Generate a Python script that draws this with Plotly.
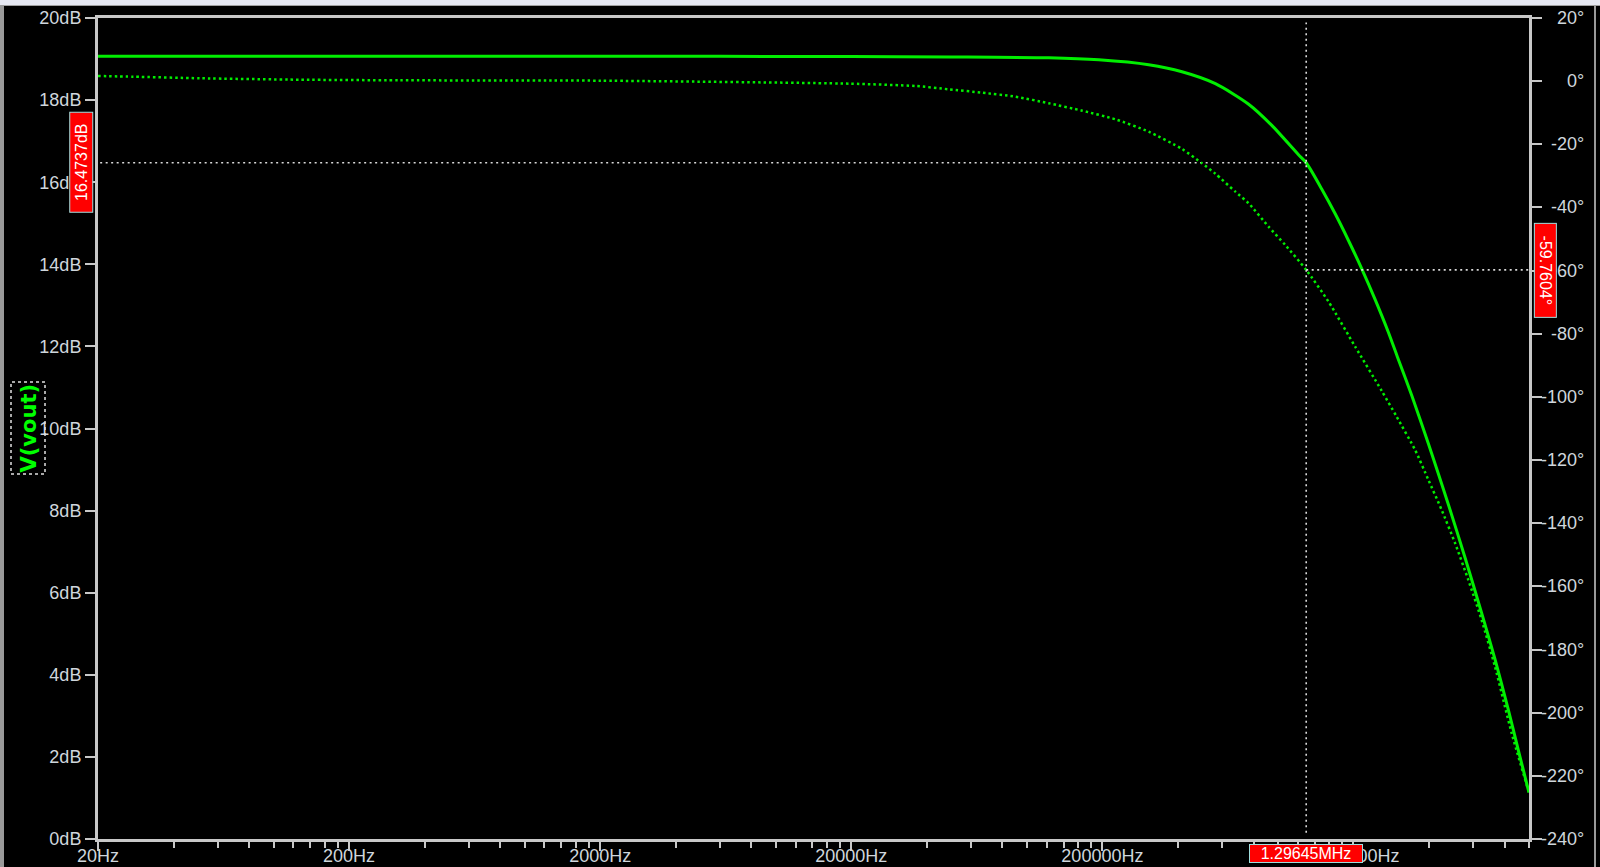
import math
import plotly.graph_objects as go

# ---------------- data ----------------
freq_mag = [20, 200, 2000, 20000, 50000, 122400, 193500, 305900, 415000, 563600,
            764500, 943600, 1.208e6, 1.29645e6, 1.496e6, 1.691e6, 1.910e6, 2.158e6,
            2.44e6, 2.756e6, 2.99e6, 3.41e6, 3.976e6, 4.774e6, 5.564e6, 6.475e6,
            7.32e6, 8.27e6, 9.07e6, 1.0e7]
mag_db = [19.07, 19.07, 19.07, 19.06, 19.05, 19.03, 18.98, 18.86, 18.69, 18.40,
          17.90, 17.39, 16.67, 16.4737, 15.83, 15.23, 14.58, 13.89,
          13.14, 12.34, 11.75, 10.81, 9.63, 8.15, 6.85, 5.51,
          4.38, 3.15, 2.16, 1.13]

freq_ph = [20, 27.6, 50.9, 127, 318, 2000, 19650, 36100, 48980, 66440,
           90200, 122400, 166100, 225500, 305900, 415000, 498600, 563600,
           676800, 764500, 918000, 1.07e6, 1.29645e6, 1.591e6, 2.031e6,
           2.592e6, 2.97e6, 3.52e6, 3.976e6, 4.49e6, 5.076e6,
           5.734e6, 6.475e6, 7.32e6, 8.53e6, 1.0e7]
phase_deg = [1.63, 1.41, 0.91, 0.46, 0.27, 0.15, -0.80, -1.53, -2.58, -3.65,
             -4.92, -7.01, -9.35, -12.08, -16.0, -21.48, -26.0, -29.3,
             -35.0, -38.68, -46.09, -51.88, -59.7604, -69.83, -84.08,
             -98.11, -106.25, -116.8, -126.3, -135.8, -146.3,
             -158.0, -170.6, -185.4, -206.5, -225.3]

cursor_freq = 1.29645e6
cursor_mag = 16.4737
cursor_phase = -59.7604
cursor_freq_text = "1.29645MHz"
cursor_mag_text = "16.4737dB"
cursor_phase_text = "-59.7604°"

x_tick_vals = [20, 200, 2000, 20000, 200000, 2000000]
x_tick_text = ["20Hz", "200Hz", "2000Hz", "20000Hz", "200000Hz", "2000000Hz"]
x_min, x_max = 20, 1.0e7

mag_tick_vals = [0, 2, 4, 6, 8, 10, 12, 14, 16, 18, 20]
mag_tick_text = ["0dB", "2dB", "4dB", "6dB", "8dB", "10dB", "12dB", "14dB", "16dB", "18dB", "20dB"]
ph_tick_vals = [-240, -220, -200, -180, -160, -140, -120, -100, -80, -60, -40, -20, 0, 20]
ph_tick_text = ["-240°", "-220°", "-200°", "-180°", "-160°", "-140°", "-120°", "-100°",
                "-80°", "-60°", "-40°", "-20°", "0°", "20°"]
trace_name = "V(vout)"

# ---------------- styling ----------------
AX = "#c8c8c8"
TXT = "#cfd6dc"
GREEN = "#00ee00"
FONT = "Liberation Sans"
W, H = 1600, 867
L, R, T, B = 98, 1529, 18, 839


def px_x(p):
    return (p - L) / (R - L)


def px_y(p):
    return (B - p) / (B - T)


minor_vals = []
for n in range(0, 6):
    for k in range(2, 10):
        v = 20 * k * 10 ** n
        if v <= x_max * 1.0001:
            minor_vals.append(v)

fig = go.Figure()
fig.add_trace(go.Scatter(x=freq_mag, y=mag_db, mode="lines", yaxis="y",
                         line=dict(color=GREEN, width=3, shape="spline", smoothing=0.7),
                         hoverinfo="skip"))
fig.add_trace(go.Scatter(x=freq_ph, y=phase_deg, mode="lines", yaxis="y2",
                         line=dict(color=GREEN, width=2.5, dash="2.5px,3px",
                                   shape="spline", smoothing=0.6),
                         hoverinfo="skip"))

cur_line = dict(color="#d8d8d8", width=1.6, dash="2px,3.5px")
fig.add_trace(go.Scatter(x=[cursor_freq, cursor_freq], y=[0.15, 19.89], mode="lines",
                         yaxis="y", line=cur_line, hoverinfo="skip"))
fig.add_trace(go.Scatter(x=[x_min * 1.02, cursor_freq], y=[cursor_mag, cursor_mag], mode="lines",
                         yaxis="y", line=cur_line, hoverinfo="skip"))
fig.add_trace(go.Scatter(x=[cursor_freq, x_max], y=[cursor_phase, cursor_phase], mode="lines",
                         yaxis="y2", line=cur_line, hoverinfo="skip"))

annotations = []
for v, t in zip(ph_tick_vals, ph_tick_text):
    annotations.append(dict(text=t, xref="paper", x=1, xshift=57, xanchor="right",
                            yref="y2", y=v, yanchor="middle", showarrow=False,
                            font=dict(family=FONT, size=18, color=TXT)))

box_style = dict(bgcolor="#ff0000", bordercolor="#9fdede", borderwidth=1, borderpad=0,
                 showarrow=False, font=dict(family=FONT, size=16, color="#ffffff"))
annotations.append(dict(text=cursor_mag_text, xref="paper", x=0, xshift=-17, xanchor="center",
                        yref="y", y=cursor_mag, yanchor="middle", textangle=-90,
                        width=99, height=22, **box_style))
annotations.append(dict(text=cursor_phase_text, xref="paper", x=1, xshift=16, xanchor="center",
                        yref="y2", y=cursor_phase, yanchor="middle", textangle=90,
                        width=93, height=21, **box_style))
annotations.append(dict(text=cursor_freq_text, xref="x", x=math.log10(cursor_freq), xanchor="center",
                        yref="paper", y=0, yshift=-14.5, yanchor="middle",
                        width=112, height=17, **box_style))
annotations.append(dict(text="<b>" + trace_name + "</b>", xref="paper", x=px_x(28), xanchor="center",
                        yref="paper", y=0.5, yanchor="middle", textangle=-90, showarrow=False,
                        font=dict(family="DejaVu Sans", size=21, color="#00ff00")))

shapes = [
    dict(type="rect", xref="paper", yref="paper", x0=px_x(11), x1=px_x(45), y0=px_y(474), y1=px_y(382),
         line=dict(color="#e0e0e0", width=1.5, dash="dot")),
    dict(type="rect", xref="paper", yref="paper", x0=px_x(0), x1=px_x(W), y0=px_y(5), y1=px_y(0),
         fillcolor="#e6e8f2", line=dict(width=0), layer="above"),
    dict(type="line", xref="paper", yref="paper", x0=px_x(0), x1=px_x(W), y0=px_y(5.5), y1=px_y(5.5),
         line=dict(color="#a0a0a0", width=1)),
    dict(type="rect", xref="paper", yref="paper", x0=px_x(0), x1=px_x(4), y0=px_y(H), y1=px_y(5),
         fillcolor="#9a9a9a", line=dict(width=0)),
    dict(type="line", xref="paper", yref="paper", x0=px_x(1595), x1=px_x(1595), y0=px_y(H), y1=px_y(5),
         line=dict(color="#9a9a9a", width=2)),
]

fig.update_layout(
    width=W, height=H, autosize=False,
    paper_bgcolor="#000000", plot_bgcolor="#000000",
    margin=dict(l=L, r=W - R, t=T, b=H - B, pad=0, autoexpand=False),
    showlegend=False,
    font=dict(family=FONT, size=18, color=TXT),
    xaxis=dict(type="log", range=[math.log10(x_min), math.log10(x_max)], automargin=False,
               showgrid=False, zeroline=False, showline=True, linecolor=AX, linewidth=3,
               mirror=True, ticks="outside", ticklen=9, tickwidth=2, tickcolor=AX,
               tickmode="array", tickvals=x_tick_vals, ticktext=x_tick_text,
               ticklabelstandoff=-11,
               tickfont=dict(family=FONT, size=18, color=TXT),
               minor=dict(tickmode="array", tickvals=minor_vals, ticks="outside",
                          ticklen=6, tickwidth=2, tickcolor=AX, showgrid=False)),
    yaxis=dict(range=[0, 20], automargin=False, showgrid=False, zeroline=False, showline=True,
               linecolor=AX, linewidth=3, ticks="outside", ticklen=10, tickwidth=2,
               tickcolor=AX, tickmode="array", tickvals=mag_tick_vals, ticktext=mag_tick_text,
               tickfont=dict(family=FONT, size=18, color=TXT)),
    yaxis2=dict(range=[-240, 20], overlaying="y", side="right", automargin=False, showgrid=False,
                zeroline=False, showline=True, linecolor=AX, linewidth=3,
                ticks="outside", ticklen=10, tickwidth=2, tickcolor=AX,
                tickmode="array", tickvals=ph_tick_vals, showticklabels=False),
    annotations=annotations,
    shapes=shapes,
)

fig.write_html("out.html", config={"displayModeBar": False},
               post_script="document.body.style.margin='0';document.body.style.overflow='hidden';")
